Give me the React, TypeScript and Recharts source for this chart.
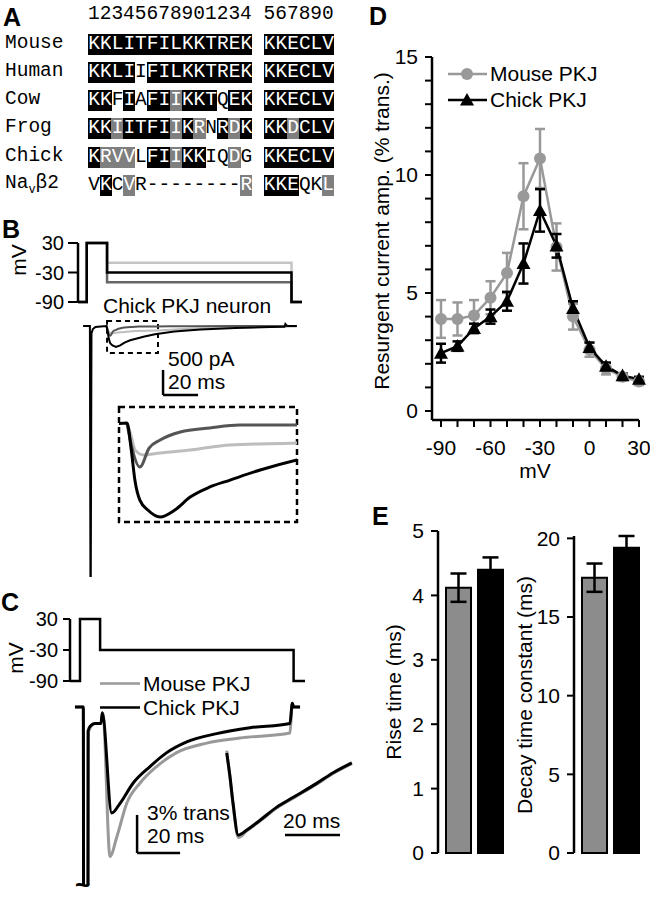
import React from 'react'
import {
  LineChart, Line, BarChart, Bar, XAxis, YAxis, ErrorBar, Cell,
  ReferenceLine, ReferenceArea, Legend,
} from 'recharts'

const FONT = '"Liberation Sans", Arial, sans-serif'
const MONO = '"Liberation Mono", "Courier New", monospace'

// A — alignment
const alignHeader = '12345678901234 567890'
const alignNames = ['Mouse', 'Human', 'Cow', 'Frog', 'Chick', 'Navb2']
const alignSeqs = [
  'KKLITFILKKTREK KKECLV',
  'KKLIIFILKKTREK KKECLV',
  'KKFIAFIIKKTQEK KKECLV',
  'KKIITFIIKRNRDK KKDCLV',
  'KRVVLFIIKKIQDG KKECLV',
  'VKCVR--------R KKEQKL',
]
// b = identical (black), g = similar (grey), n = none
const alignShade = [
  'bbbbbbbbbbbbbb bbbbbb',
  'bbbbnbbbbbbbbb bbbbbb',
  'bbnbnbbgbbbnbb bbbbbb',
  'bbgbbbbgbgnbgb bbgbbb',
  'bgggnbbgbbnngn bbbbbb',
  'nbngnnnnnnnnng bbbnng',
]

// B — protocol (ms, mV) and currents (ms, pA)
const protoTimesB = [0, 5, 16.6, 122, 128]
const protoLevelsB = [-10, -50, -30]
const protoColorsB = ['#c4c4c4', '#666666', '#000000']

const tBlackB = [2.9, 6.8, 7.1, 7.3, 7.7, 8.5, 10, 13, 16.3, 17.0, 17.6, 18.4, 19.7, 21.7, 24.1, 26.6, 29.8, 33.1, 38, 44, 55, 70, 90, 110, 118, 118.5, 119.5, 125]
const iBlackB = [0, 0, -5000, -5000, -150, -60, -20, -10, 0, -121, -257, -345, -389, -420, -389, -331, -286, -255, -210, -165, -110, -70, -40, -20, -15, 40, 0, 0]
const tDarkB = [16.3, 17.0, 18.4, 19.9, 21.7, 25, 29.8, 34.7, 44, 60, 90, 125]
const iDarkB = [0, -98, -197, -112, -76, -40, -22, -9, -9, -5, 0, 0]
const tLightB = [16.3, 17.0, 17.6, 19.0, 21.7, 26.6, 33.1, 44, 60, 80, 100, 125]
const iLightB = [0, -60, -120, -143, -134, -121, -98, -89, -60, -35, -20, -10]

// C — protocol and currents (ms, % of transient)
const protoTimesC = [0, 4.65, 14, 104, 109.3]
const protoLevelC = -30
const tChickC = [2.3, 6.2, 6.6, 7.8, 8.4, 9.5, 11.6, 14.4, 15.0, 19.4, 23.3, 29.4, 37.2, 45, 54.3, 68.2, 83.7, 102.3, 103.4, 104, 107]
const iChickC = [0, 0, -100, -100, -1.9, -1.5, -1.3, -1.3, -0.45, -8.37, -7.6, -6.0, -4.7, -3.6, -2.75, -2.1, -1.64, -1.3, 0.3, 0, 0]
const tMouseC = [2.3, 6.2, 6.6, 8.0, 8.6, 9.5, 11.6, 14.4, 15.3, 18.6, 21.7, 26.4, 32.6, 40.3, 49.6, 63.6, 79, 102.3, 103.4, 104, 107]
const iMouseC = [0, 0, -100, -100, -2.0, -1.6, -1.3, -1.3, -0.5, -11.8, -10.3, -7.6, -6.0, -4.7, -3.6, -2.85, -2.45, -2.05, 0.3, 0, 0]
// normalized decays
const tNormC = [0, 1.2, 2.3, 4.2, 7.3, 12.1, 18.2, 24.2, 32.7, 38.7, 45.5]
const chickNormC = [0, -0.29, -0.61, -1.0, -0.94, -0.82, -0.66, -0.54, -0.37, -0.24, -0.12]
const mouseNormC = [0.03, -0.3, -0.63, -1.03, -0.95, -0.83, -0.67, -0.55, -0.38, -0.25, -0.13]

// D — resurgent amplitude vs voltage
const dVolt = [-90, -80, -70, -60, -50, -40, -30, -20, -10, 0, 10, 20, 30]
const dMouse = [3.9, 3.9, 4.05, 4.8, 5.85, 9.1, 10.7, 6.95, 4.0, 2.6, 1.8, 1.45, 1.25]
const dMouseErr = [0.8, 0.7, 0.65, 0.7, 0.85, 1.4, 1.25, 1.0, 0.55, 0.3, 0.25, 0.15, 0.15]
const dChick = [2.45, 2.75, 3.5, 4.0, 4.65, 6.25, 8.5, 7.0, 4.35, 2.7, 1.9, 1.5, 1.35]
const dChickErr = [0.4, 0.2, 0.2, 0.3, 0.4, 0.85, 0.9, 0.5, 0.3, 0.2, 0.15, 0.1, 0.1]
const dSeriesNames = ['Mouse PKJ', 'Chick PKJ']
const dTicksX = [-90, -80, -70, -60, -50, -40, -30, -20, -10, 0, 10, 20, 30]
const dTicksY = [0, 1, 2, 3, 4, 5, 6, 7, 8, 9, 10, 11, 12, 13, 14, 15]

// E — kinetics
const eGroups = ['Mouse PKJ', 'Chick PKJ']
const eColors = ['#8c8c8c', '#000000']
const riseMean = [4.12, 4.4]
const riseErr = [0.22, 0.19]
const decayMean = [17.5, 19.4]
const decayErr = [0.9, 0.75]

const pts = (ts: number[], vs: number[]) => ts.map((t, i) => ({ t, v: vs[i] }))
const protoPts = (times: number[], level: number) =>
  [-90, 30, level, -90, -90].map((v, i) => ({ t: times[i], v }))

const MOUSE = '#999999'

const Box = ({ x, y, children }: { x: number; y: number; children: React.ReactNode }) => (
  <div style={{ position: 'absolute', left: x, top: y }}>{children}</div>
)

const Txt = ({ x, y, size = 21, bold, children }: any) => (
  <div style={{
    position: 'absolute', left: x, top: y, transform: 'translateY(-50%)',
    fontSize: size, fontWeight: bold ? 'bold' : 'normal', lineHeight: 1, whiteSpace: 'nowrap',
  }}>{children}</div>
)

const VTxt = ({ x, y, size = 21, children }: any) => (
  <div style={{
    position: 'absolute', left: x, top: y, transform: 'translate(-50%, -50%) rotate(-90deg)',
    fontSize: size, lineHeight: 1, whiteSpace: 'nowrap',
  }}>{children}</div>
)

const tickFont = (size: number) => ({ fontSize: size, fill: '#000', fontFamily: FONT })
const axisStroke = { stroke: '#000', strokeWidth: 2.5 }
const tickStroke = { stroke: '#000', strokeWidth: 2 }

function Alignment() {
  const cw = 11.7
  return (
    <div style={{ position: 'absolute', left: 0, top: 0, fontFamily: MONO, fontSize: 19.5 }}>
      <div style={{ position: 'absolute', left: 88, top: 15, transform: 'translateY(-50%)', whiteSpace: 'pre', lineHeight: 1 }}>
        {alignHeader}
      </div>
      {alignNames.map((name, r) => {
        const cy = 43.5 + r * 28.3
        return (
          <React.Fragment key={name}>
            <div style={{ position: 'absolute', left: 5, top: cy, transform: 'translateY(-50%)', lineHeight: 1, whiteSpace: 'nowrap' }}>
              {name === 'Navb2'
                ? <>Na<sub style={{ fontSize: 12 }}>v</sub>β2</>
                : name}
            </div>
            {alignSeqs[r].split('').map((ch, i) => {
              const s = alignShade[r][i]
              if (ch === ' ') return null
              return (
                <div key={i} style={{
                  position: 'absolute', left: 88 + i * cw, top: cy - 10, width: cw + 0.6, height: 21,
                  background: s === 'b' ? '#000' : s === 'g' ? '#7f7f7f' : 'transparent',
                  color: s === 'n' ? '#000' : '#fff', textAlign: 'center', lineHeight: '21px',
                }}>{ch}</div>
              )
            })}
          </React.Fragment>
        )
      })}
    </div>
  )
}

const Triangle = (props: any) => {
  const { cx, cy, index } = props
  if (cx == null || cy == null) return <g key={`tri-${index}`} />
  const s = 7
  return (
    <polygon key={`tri-${index}`} fill="#000"
      points={`${cx},${cy - s} ${cx - s},${cy + s * 0.8} ${cx + s},${cy + s * 0.8}`} />
  )
}

const LegendD = () => (
  <div style={{ fontFamily: FONT, fontSize: 21, color: '#000' }}>
    {dSeriesNames.map((name, i) => (
      <div key={name} style={{ display: 'flex', alignItems: 'center', height: 26 }}>
        <svg width={42} height={26}>
          <line x1={0} y1={13} x2={39} y2={13} stroke={i === 0 ? MOUSE : '#000'} strokeWidth={2.5} />
          {i === 0
            ? <circle cx={19} cy={13} r={6} fill={MOUSE} />
            : <polygon points="19,6 12,18.6 26,18.6" fill="#000" />}
        </svg>
        <span>{name}</span>
      </div>
    ))}
  </div>
)

function PanelD() {
  const data = dVolt.map((v, i) => ({
    v, mouse: dMouse[i], mouseErr: dMouseErr[i], chick: dChick[i], chickErr: dChickErr[i],
  }))
  return (
    <Box x={372} y={43}>
      <LineChart width={282} height={437} data={data} margin={{ top: 14, right: 15, bottom: 0, left: 0 }}>
        <XAxis type="number" dataKey="v" domain={[-95.45, 30]} ticks={dTicksX} interval={0}
          tickFormatter={(t: number) => (t % 30 === 0 ? String(t) : '')}
          height={60} tickSize={7} tickMargin={13} tick={tickFont(21)}
          axisLine={axisStroke} tickLine={tickStroke} />
        <YAxis type="number" domain={[-0.381, 15]} ticks={dTicksY} interval={0}
          tickFormatter={(t: number) => (t % 5 === 0 ? String(t) : '')}
          width={60} tickSize={7} tickMargin={7} tick={tickFont(21)}
          axisLine={axisStroke} tickLine={tickStroke} />
        <Legend layout="vertical" align="center" verticalAlign="middle"
          wrapperStyle={{ left: 76, top: 18, width: 'auto' }} content={<LegendD />} />
        <Line dataKey="mouse" name="Mouse PKJ" stroke={MOUSE} strokeWidth={2.5} type="linear"
          dot={{ r: 6, fill: MOUSE, stroke: 'none' }} isAnimationActive={false}>
          <ErrorBar dataKey="mouseErr" direction="y" width={5} stroke={MOUSE} strokeWidth={2.5} />
        </Line>
        <Line dataKey="chick" name="Chick PKJ" stroke="#000" strokeWidth={2.5} type="linear"
          dot={Triangle} isAnimationActive={false}>
          <ErrorBar dataKey="chickErr" direction="y" width={5} stroke="#000" strokeWidth={2.5} />
        </Line>
      </LineChart>
    </Box>
  )
}

function KineticsBar({ x, y, height, max, ticks, mean, err }: any) {
  const data = eGroups.map((g, i) => ({ g, mean: mean[i], err: err[i] }))
  return (
    <Box x={x} y={y}>
      <BarChart width={132} height={height} data={data} margin={{ top: 12, right: 4, bottom: 16, left: 0 }}>
        <XAxis dataKey="g" hide padding={{ left: 4, right: 0 }} />
        <YAxis type="number" domain={[0, max]} ticks={ticks} interval={0} width={60} tickSize={7} tickMargin={7}
          tick={tickFont(21)} axisLine={axisStroke} tickLine={tickStroke} />
        <Bar dataKey="mean" barSize={25} stroke="#000" strokeWidth={2} isAnimationActive={false}>
          {data.map((d, i) => <Cell key={d.g} fill={eColors[i]} />)}
          <ErrorBar dataKey="err" direction="y" width={8} stroke="#000" strokeWidth={2.5} />
        </Bar>
      </BarChart>
    </Box>
  )
}

export default function App() {
  return (
    <div style={{
      position: 'absolute', left: 0, top: 0, width: 650, height: 899, background: '#fff',
      fontFamily: FONT, color: '#000', overflow: 'hidden',
    }}>
      {/* panel letters */}
      <Txt x={3} y={17} size={25} bold>A</Txt>
      <Txt x={2} y={229} size={25} bold>B</Txt>
      <Txt x={1} y={602} size={25} bold>C</Txt>
      <Txt x={369} y={16} size={25} bold>D</Txt>
      <Txt x={372} y={516} size={25} bold>E</Txt>

      <Alignment />

      {/* B — voltage protocol */}
      <Box x={0} y={231}>
        <LineChart width={304} height={83} margin={{ top: 12, right: 2, bottom: 12, left: 0 }}>
          <XAxis type="number" dataKey="t" domain={[0, 128]} hide />
          <YAxis type="number" domain={[-90, 30]} ticks={[30, -30, -90]} interval={0} width={78} tickSize={10} tickMargin={4}
            tick={tickFont(20)} axisLine={axisStroke} tickLine={tickStroke} />
          {protoLevelsB.map((lv, i) => (
            <Line key={lv} data={protoPts(protoTimesB, lv)} dataKey="v" type="stepAfter"
              stroke={protoColorsB[i]} strokeWidth={2.5} dot={false} isAnimationActive={false} />
          ))}
        </LineChart>
      </Box>
      <VTxt x={18} y={260}>mV</VTxt>
      <Txt x={103} y={305}>Chick PKJ neuron</Txt>

      {/* B — currents */}
      <Box x={78} y={316}>
        <LineChart width={224} height={264} margin={{ top: 0, right: 0, bottom: 0, left: 0 }}>
          <XAxis type="number" dataKey="t" domain={[0, 128]} hide />
          <YAxis type="number" domain={[-5080, 200]} hide />
          <ReferenceArea x1={16.6} x2={45.7} y1={-540} y2={100} fill="none" stroke="#000"
            strokeWidth={2} strokeDasharray="5 4" />
          <Line data={pts(tLightB, iLightB)} dataKey="v" type="monotone" stroke="#bdbdbd" strokeWidth={2} dot={false} isAnimationActive={false} />
          <Line data={pts(tDarkB, iDarkB)} dataKey="v" type="monotone" stroke="#555" strokeWidth={2} dot={false} isAnimationActive={false} />
          <Line data={pts(tBlackB, iBlackB)} dataKey="v" type="linear" stroke="#000" strokeWidth={2} dot={false} isAnimationActive={false} />
          <ReferenceLine segment={[{ x: 48.6, y: -880 }, { x: 48.6, y: -1380 }]} stroke="#000" strokeWidth={2.5} />
          <ReferenceLine segment={[{ x: 48.6, y: -1380 }, { x: 68.6, y: -1380 }]} stroke="#000" strokeWidth={2.5} />
        </LineChart>
      </Box>
      <Txt x={168} y={358}>500 pA</Txt>
      <Txt x={168} y={381}>20 ms</Txt>

      {/* B — inset */}
      <Box x={116} y={404}>
        <LineChart width={184} height={121} margin={{ top: 3, right: 3, bottom: 3, left: 3 }}>
          <XAxis type="number" dataKey="t" domain={[15, 44]} hide allowDataOverflow />
          <YAxis type="number" domain={[-442.5, 71.5]} hide allowDataOverflow />
          <Line data={pts(tLightB, iLightB)} dataKey="v" type="monotone" stroke="#bdbdbd" strokeWidth={3} dot={false} isAnimationActive={false} />
          <Line data={pts(tDarkB, iDarkB)} dataKey="v" type="monotone" stroke="#555" strokeWidth={3} dot={false} isAnimationActive={false} />
          <Line data={pts(tBlackB, iBlackB)} dataKey="v" type="monotone" stroke="#000" strokeWidth={3} dot={false} isAnimationActive={false} />
          <ReferenceArea x1={15} x2={44} y1={-442.5} y2={71.5} fill="none" stroke="#000"
            strokeWidth={2.5} strokeDasharray="6 4" ifOverflow="visible" />
        </LineChart>
      </Box>

      {/* C — protocol */}
      <Box x={0} y={607}>
        <LineChart width={307} height={86} margin={{ top: 12, right: 2, bottom: 12, left: 0 }}>
          <XAxis type="number" dataKey="t" domain={[0, 109.3]} hide />
          <YAxis type="number" domain={[-90, 30]} ticks={[30, -30, -90]} interval={0} width={70} tickSize={7} tickMargin={5}
            tick={tickFont(20)} axisLine={axisStroke} tickLine={tickStroke} />
          <Line data={protoPts(protoTimesC, protoLevelC)} dataKey="v" type="stepAfter"
            stroke="#000" strokeWidth={2.5} dot={false} isAnimationActive={false} />
        </LineChart>
      </Box>
      <VTxt x={15} y={658}>mV</VTxt>
      {dSeriesNames.map((name, i) => (
        <div key={name} style={{ position: 'absolute', left: 100, top: 683 + i * 24, transform: 'translateY(-50%)', display: 'flex', alignItems: 'center', fontSize: 21, lineHeight: 1 }}>
          <svg width={43} height={10}><line x1={0} y1={5} x2={40} y2={5} stroke={i === 0 ? MOUSE : '#000'} strokeWidth={2.5} /></svg>
          <span>{name}</span>
        </div>
      ))}

      {/* C — currents */}
      <Box x={70} y={697}>
        <LineChart width={235} height={188} margin={{ top: 0, right: 0, bottom: 0, left: 0 }}>
          <XAxis type="number" dataKey="t" domain={[0, 109.3]} hide />
          <YAxis type="number" domain={[-14.05, 0.79]} hide allowDataOverflow />
          <Line data={pts(tMouseC, iMouseC)} dataKey="v" type="monotone" stroke={MOUSE} strokeWidth={3} dot={false} isAnimationActive={false} />
          <Line data={pts(tChickC, iChickC)} dataKey="v" type="monotone" stroke="#000" strokeWidth={3} dot={false} isAnimationActive={false} />
          <ReferenceLine segment={[{ x: 31.2, y: -8.52 }, { x: 31.2, y: -11.52 }]} stroke="#000" strokeWidth={2.5} />
          <ReferenceLine segment={[{ x: 31.2, y: -11.52 }, { x: 51.2, y: -11.52 }]} stroke="#000" strokeWidth={2.5} />
        </LineChart>
      </Box>
      <Box x={220} y={740}>
        <LineChart width={140} height={105} margin={{ top: 0, right: 0, bottom: 0, left: 0 }}>
          <XAxis type="number" dataKey="t" domain={[-2.44, 48.47]} hide />
          <YAxis type="number" domain={[-1.122, 0.159]} hide />
          <Line data={pts(tNormC, mouseNormC)} dataKey="v" type="monotone" stroke={MOUSE} strokeWidth={3} dot={false} isAnimationActive={false} />
          <Line data={pts(tNormC, chickNormC)} dataKey="v" type="monotone" stroke="#000" strokeWidth={3} dot={false} isAnimationActive={false} />
          <ReferenceLine segment={[{ x: 21.2, y: -1 }, { x: 41.2, y: -1 }]} stroke="#000" strokeWidth={2.5} />
        </LineChart>
      </Box>
      <Txt x={147} y={812}>3% trans</Txt>
      <Txt x={147} y={835}>20 ms</Txt>
      <Txt x={283} y={820}>20 ms</Txt>
      <div style={{ position: 'absolute', left: 75, top: 872, fontSize: 26, fontWeight: 'bold', lineHeight: 1 }}>~</div>

      {/* D */}
      <PanelD />
      <VTxt x={381} y={231}>Resurgent current amp. (% trans.)</VTxt>
      <div style={{ position: 'absolute', left: 535, top: 470, transform: 'translate(-50%, -50%)', fontSize: 21, lineHeight: 1 }}>mV</div>

      {/* E */}
      <KineticsBar x={378} y={519} height={350} max={5} ticks={[0, 1, 2, 3, 4, 5]} mean={riseMean} err={riseErr} />
      <KineticsBar x={514} y={524} height={345} max={20} ticks={[0, 5, 10, 15, 20]} mean={decayMean} err={decayErr} />
      <VTxt x={393} y={692}>Rise time (ms)</VTxt>
      <VTxt x={524} y={695}>Decay time constant (ms)</VTxt>
    </div>
  )
}
